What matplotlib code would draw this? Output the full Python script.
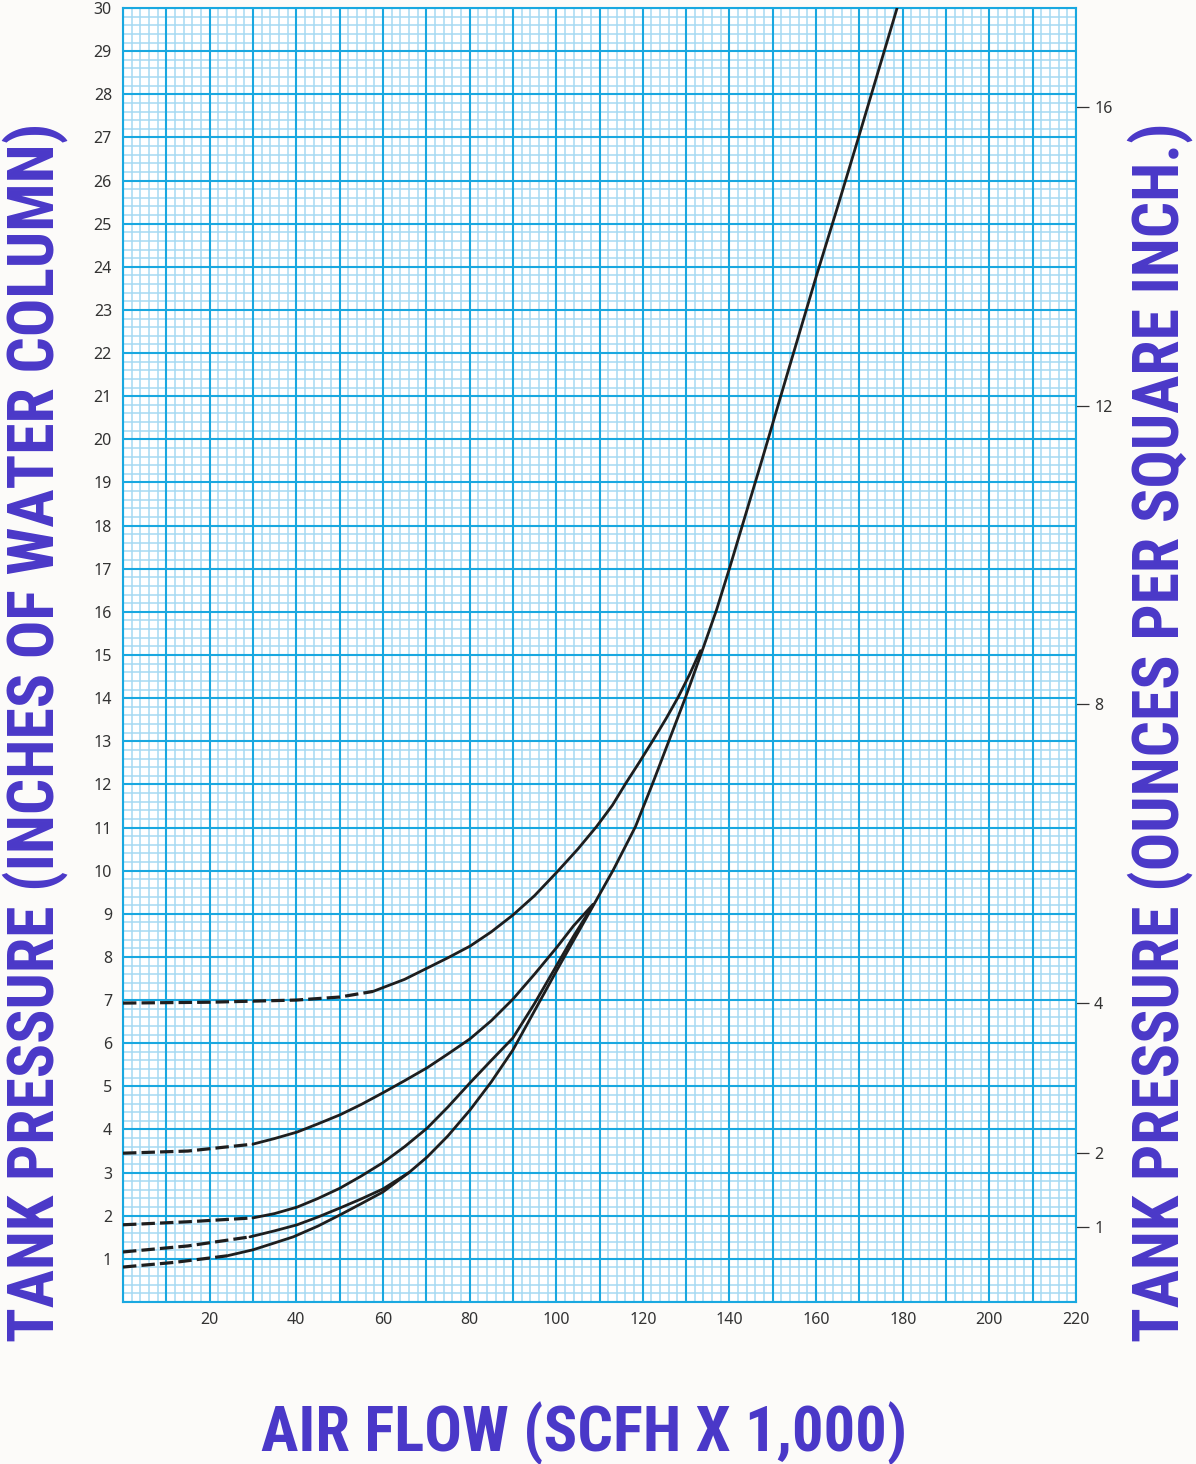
import numpy as np
import matplotlib.pyplot as plt
from matplotlib.ticker import MultipleLocator, FuncFormatter

plt.rcParams['font.family'] = ['Noto Sans', 'DejaVu Sans']

# Curve data (x = air flow SCFH x 1000, y = inches WC)
a_dash_x = [0, 20, 40, 50, 57.7]
a_dash_y = [6.93, 6.95, 7.0, 7.07, 7.2]
a_x = [57.7, 65, 70.2, 75, 80.1, 85, 90, 95, 100.2, 105, 109.3, 113, 116.1,
       119.3, 122.4, 125.4, 128.2, 130.8, 133.3]
a_y = [7.2, 7.48, 7.74, 7.98, 8.25, 8.58, 8.97, 9.42, 9.97, 10.5, 11.02, 11.52, 12.03,
       12.53, 13.03, 13.53, 14.03, 14.55, 15.1]

b_dash_x = [0, 15, 30]
b_dash_y = [3.45, 3.5, 3.66]
b_x = [30, 35, 40.2, 45, 50.1, 55, 60, 65, 70.2, 75, 80.1, 85, 90, 95, 100.2,
       104, 108.5]
b_y = [3.66, 3.79, 3.94, 4.13, 4.34, 4.58, 4.85, 5.13, 5.43, 5.75, 6.1, 6.52, 7.02,
       7.6, 8.23, 8.72, 9.22]

c_dash_x = [0, 15, 30]
c_dash_y = [1.79, 1.86, 1.95]
c_x = [30, 35, 40.2, 45, 50.1, 55, 60, 65, 70.2, 75, 80.1, 85, 90, 95, 100.2,
       104, 108.5]
c_y = [1.95, 2.05, 2.2, 2.4, 2.64, 2.92, 3.23, 3.6, 4.03, 4.52, 5.08, 5.6, 6.12,
       6.92, 7.82, 8.48, 9.2]

d_dash_x = [0, 15, 29.3]
d_dash_y = [1.16, 1.3, 1.51]
d_x = [29.3, 35, 40.2, 45, 50.1, 55, 60, 66]
d_y = [1.51, 1.65, 1.79, 1.97, 2.18, 2.39, 2.62, 3.0]

e_dash_x = [0, 12, 24]
e_dash_y = [0.81, 0.92, 1.07]
e_x = [24, 30, 35, 39.3, 45, 50.1, 55, 60, 66, 70.2, 75, 80.1, 85, 90, 95, 100.2,
       104, 108, 113.2, 118.3, 122.3, 126.1, 129.9, 133.5, 137, 140.1, 147.5, 153.6,
       160.1, 165, 170.1, 178.7]
e_y = [1.07, 1.21, 1.37, 1.51, 1.76, 2.02, 2.28, 2.55, 3.0, 3.36, 3.85, 4.45, 5.1,
       5.84, 6.75, 7.7, 8.38, 9.09, 10.02, 11.02, 12.03, 13.03, 14.03, 15.04, 16.04,
       17.04, 19.52, 21.6, 23.8, 25.4, 27.1, 30.0]

oz_ticks = [1, 2, 4, 8, 12, 16]
IN_PER_OZ = 1.7316

major_c = '#19a8e0'
minor_c = '#a6daf2'
label_c = '#4a38c8'
line_c = '#1e1e1e'

fig = plt.figure(figsize=(11.96, 14.64), dpi=100, facecolor='#fcfbf9')
ax = fig.add_axes([123 / 1196, 1 - 1302 / 1464, 953 / 1196, 1294 / 1464])
ax.set_facecolor('white')
ax.set_xlim(0, 220)
ax.set_ylim(0, 30)

# graph-paper grid: light lines first, strong lines on top
ax.vlines(np.arange(0, 221, 2), 0, 30, color=minor_c, lw=1.1, zorder=0.5)
ax.hlines(np.arange(0, 30.01, 0.2), 0, 220, color=minor_c, lw=1.1, zorder=0.5)
ax.vlines(np.arange(0, 221, 10), 0, 30, color=major_c, lw=1.5, zorder=0.6)
ax.hlines(np.arange(0, 31, 1), 0, 220, color=major_c, lw=1.5, zorder=0.6)
for s in ax.spines.values():
    s.set_color(major_c)
    s.set_linewidth(1.5)

ax.xaxis.set_major_locator(MultipleLocator(20))
ax.yaxis.set_major_locator(MultipleLocator(1))
ax.xaxis.set_major_formatter(FuncFormatter(lambda v, p: f'{int(v)}' if v > 0 else ''))
ax.yaxis.set_major_formatter(FuncFormatter(lambda v, p: f'{int(v)}' if v > 0 else ''))
ax.tick_params(which='both', length=0, labelsize=11.5, labelcolor='#333333')
ax.tick_params(axis='x', pad=7)
ax.tick_params(axis='y', pad=8)

solid = dict(color=line_c, lw=2.0, solid_joinstyle='round', solid_capstyle='round', zorder=5)
dash = dict(color=line_c, lw=2.3, dashes=(4.2, 1.6), dash_capstyle='butt', zorder=5)
for dx, dy, sx, sy in [(a_dash_x, a_dash_y, a_x, a_y),
                       (b_dash_x, b_dash_y, b_x, b_y),
                       (c_dash_x, c_dash_y, c_x, c_y),
                       (d_dash_x, d_dash_y, d_x, d_y),
                       (e_dash_x, e_dash_y, e_x, e_y)]:
    ax.plot(dx, dy, **dash)
    ax.plot(sx, sy, **solid)

sec = ax.secondary_yaxis('right', functions=(lambda y: y / IN_PER_OZ,
                                             lambda o: o * IN_PER_OZ))
sec.set_yticks(oz_ticks)
sec.tick_params(length=9, width=0.9, color='#333333', labelsize=11.5,
                labelcolor='#333333', pad=4)
sec.spines['right'].set_visible(False)

font = ['Roboto Condensed', 'Roboto', 'DejaVu Sans']
fig.text(35 / 1196, 0.5, 'TANK PRESSURE (INCHES OF WATER COLUMN)', rotation=90,
         ha='center', va='center', fontsize=46, fontweight='bold',
         color=label_c, family=font)
fig.text(1160 / 1196, 0.5, 'TANK PRESSURE (OUNCES PER SQUARE INCH.)', rotation=90,
         ha='center', va='center', fontsize=46, fontweight='bold',
         color=label_c, family=font)
fig.text(584 / 1196, 1 - 1451 / 1464, 'AIR FLOW (SCFH X 1,000)',
         ha='center', va='baseline', fontsize=45, fontweight='bold',
         color=label_c, family=font)

fig.savefig('out.png', dpi=100, facecolor=fig.get_facecolor())
